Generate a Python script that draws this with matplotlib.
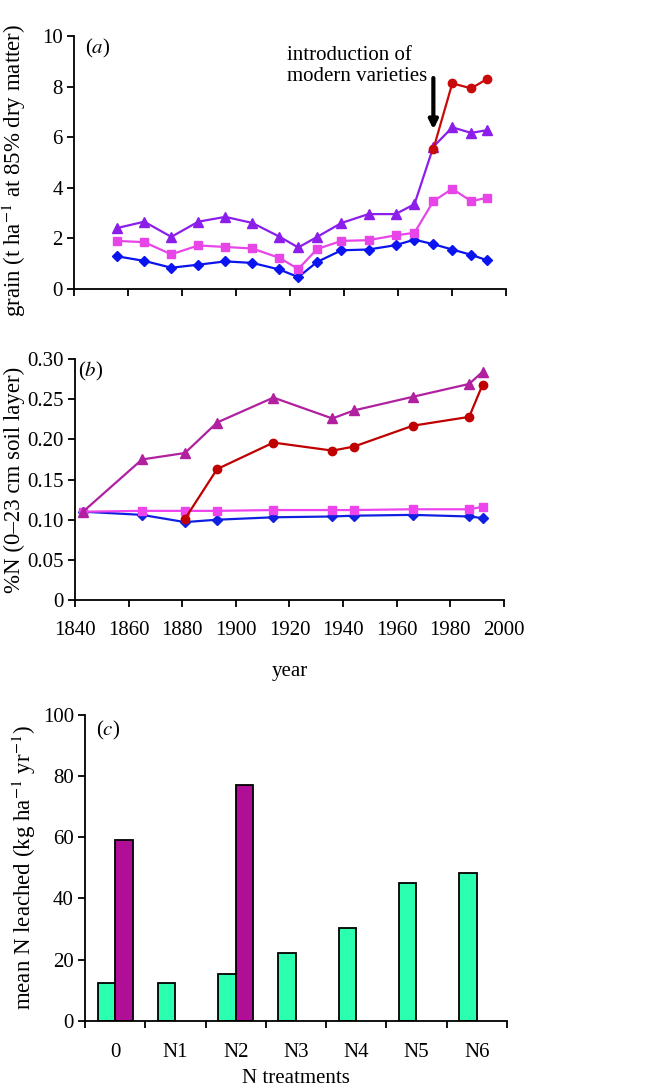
import matplotlib.pyplot as plt
import numpy as np

plt.rcParams['font.family'] = ['Liberation Serif', 'DejaVu Serif']
plt.rcParams['mathtext.fontset'] = 'stix'
plt.rcParams['font.size'] = 15

# (a) grain yields
years_a = [1856, 1866, 1876, 1886, 1896, 1906, 1916, 1923, 1930, 1939,
           1949, 1959, 1966, 1973, 1980, 1987, 1993]
grain_nil = [1.29, 1.11, 0.84, 0.96, 1.09, 1.03, 0.77, 0.47, 1.07, 1.53,
             1.56, 1.73, 1.95, 1.77, 1.56, 1.35, 1.13]
grain_pk = [1.90, 1.85, 1.37, 1.72, 1.66, 1.60, 1.23, 0.79, 1.58, 1.90,
            1.93, 2.12, 2.22, 3.47, 3.96, 3.47, 3.61]
grain_fym = [2.41, 2.66, 2.06, 2.66, 2.85, 2.61, 2.07, 1.64, 2.06, 2.61,
             2.96, 2.96, 3.35, 5.62, 6.39, 6.17, 6.28]
years_mod = [1973, 1980, 1987, 1993]
grain_mod = [5.53, 8.13, 7.93, 8.31]

# (b) soil N
years_b = [1843, 1865, 1881, 1893, 1914, 1936, 1944, 1966, 1987, 1992]
soil_nil = [0.110, 0.106, 0.097, 0.100, 0.103, 0.104, 0.105, 0.106, 0.104, 0.102]
soil_pk = [0.110, 0.111, 0.111, 0.111, 0.112, 0.112, 0.112, 0.113, 0.113, 0.116]
soil_fym = [0.110, 0.175, 0.183, 0.221, 0.252, 0.226, 0.236, 0.253, 0.269, 0.284]
years_red = [1881, 1893, 1914, 1936, 1944, 1966, 1987, 1992]
soil_red = [0.101, 0.163, 0.196, 0.186, 0.191, 0.217, 0.228, 0.268]

# (c) N leached
treatments = ['0', 'N1', 'N2', 'N3', 'N4', 'N5', 'N6']
leach_fert = [12.2, 12.2, 15.2, 22, 30.2, 44.9, 48.2]
leach_fym = [59.2, 0, 77.2, 0, 0, 0, 0]

fs = 15
fs_lab = 16.5

fig = plt.figure(figsize=(6.59, 10.88), dpi=100)
ax1 = fig.add_axes([0.1123, 0.7344, 0.656, 0.2325])
ax2 = fig.add_axes([0.1138, 0.4485, 0.651, 0.2215])
ax3 = fig.add_axes([0.129, 0.0619, 0.640, 0.281])

for ax in (ax1, ax2, ax3):
    for s in ('top', 'right'):
        ax.spines[s].set_visible(False)
    for s in ('left', 'bottom'):
        ax.spines[s].set_linewidth(1.3)
    ax.tick_params(direction='out', length=5, width=1.3, labelsize=fs, pad=3)

# panel a
ax1.plot(years_a, grain_nil, color='#0A14F0', marker='D', ms=5, lw=1.6)
ax1.plot(years_a, grain_pk, color='#E845E8', marker='s', ms=6, lw=1.6)
ax1.plot(years_a, grain_fym, color='#8C1EEB', marker='^', ms=7, lw=1.6)
ax1.plot(years_mod, grain_mod, color='#C80A0A', marker='o', ms=6, lw=1.6)
ax1.set_xlim(1840, 2000)
ax1.set_ylim(0, 10)
ax1.set_xticks(np.arange(1840, 2001, 20))
ax1.set_xticklabels([])
ax1.set_yticks([0, 2, 4, 6, 8, 10])
ax1.set_ylabel('grain (t ha$^{-1}$ at 85% dry matter)', fontsize=fs_lab)
ax1.yaxis.set_label_coords(-0.106, 0.47)
ax1.text(1844, 9.5, '($a$)', fontsize=fs, va='center')
ax1.text(1919, 9.6, 'introduction of\nmodern varieties', fontsize=fs,
         va='top', ha='left', linespacing=1.1)
ax1.annotate('', xy=(1973, 6.2), xytext=(1973, 8.45),
             arrowprops=dict(arrowstyle='-|>', color='black', lw=3,
                             mutation_scale=13))

# panel b
ax2.plot(years_b, soil_nil, color='#1020E0', marker='D', ms=5, lw=1.6)
ax2.plot(years_b, soil_pk, color='#EE44EE', marker='s', ms=6, lw=1.6)
ax2.plot(years_b, soil_fym, color='#B0209F', marker='^', ms=7, lw=1.6)
ax2.plot(years_red, soil_red, color='#C00000', marker='o', ms=6, lw=1.6)
ax2.set_xlim(1840, 2000)
ax2.set_ylim(0, 0.30)
ax2.set_xticks(np.arange(1840, 2001, 20))
ax2.set_yticks([0, 0.05, 0.10, 0.15, 0.20, 0.25, 0.30])
ax2.set_yticklabels(['0', '0.05', '0.10', '0.15', '0.20', '0.25', '0.30'])
ax2.tick_params(axis='x', pad=10)
ax2.set_xlabel('year', fontsize=fs, labelpad=16)
ax2.set_ylabel('%N (0–23 cm soil layer)', fontsize=fs_lab)
ax2.yaxis.set_label_coords(-0.116, 0.5)
ax2.text(1841, 0.284, '($b$)', fontsize=fs, va='center')

# panel c
x = np.arange(len(treatments)) + 0.5
w = 0.29
ax3.bar(x - w / 2, leach_fert, width=w, color='#2BFFB0', edgecolor='black', lw=1.3)
fym_x = [xi + w / 2 for xi, v in zip(x, leach_fym) if v > 0]
fym_v = [v for v in leach_fym if v > 0]
ax3.bar(fym_x, fym_v, width=w, color='#B00E96', edgecolor='black', lw=1.3)
ax3.set_xlim(0, len(treatments))
ax3.set_ylim(0, 100)
ax3.set_yticks([0, 20, 40, 60, 80, 100])
ax3.set_xticks(np.arange(0, len(treatments) + 1))
ax3.set_xticklabels([])
ax3.set_xticks(x, minor=True)
ax3.set_xticklabels(treatments, minor=True)
ax3.tick_params(axis='x', which='minor', length=0, pad=16, labelsize=fs)
ax3.set_xlabel('N treatments', fontsize=fs, labelpad=5)
ax3.set_ylabel('mean N leached (kg ha$^{-1}$ yr$^{-1}$)', fontsize=fs_lab)
ax3.yaxis.set_label_coords(-0.111, 0.5)
ax3.text(0.18, 95, '($c$)', fontsize=fs, va='center')

fig.savefig('out.png', dpi=100)
